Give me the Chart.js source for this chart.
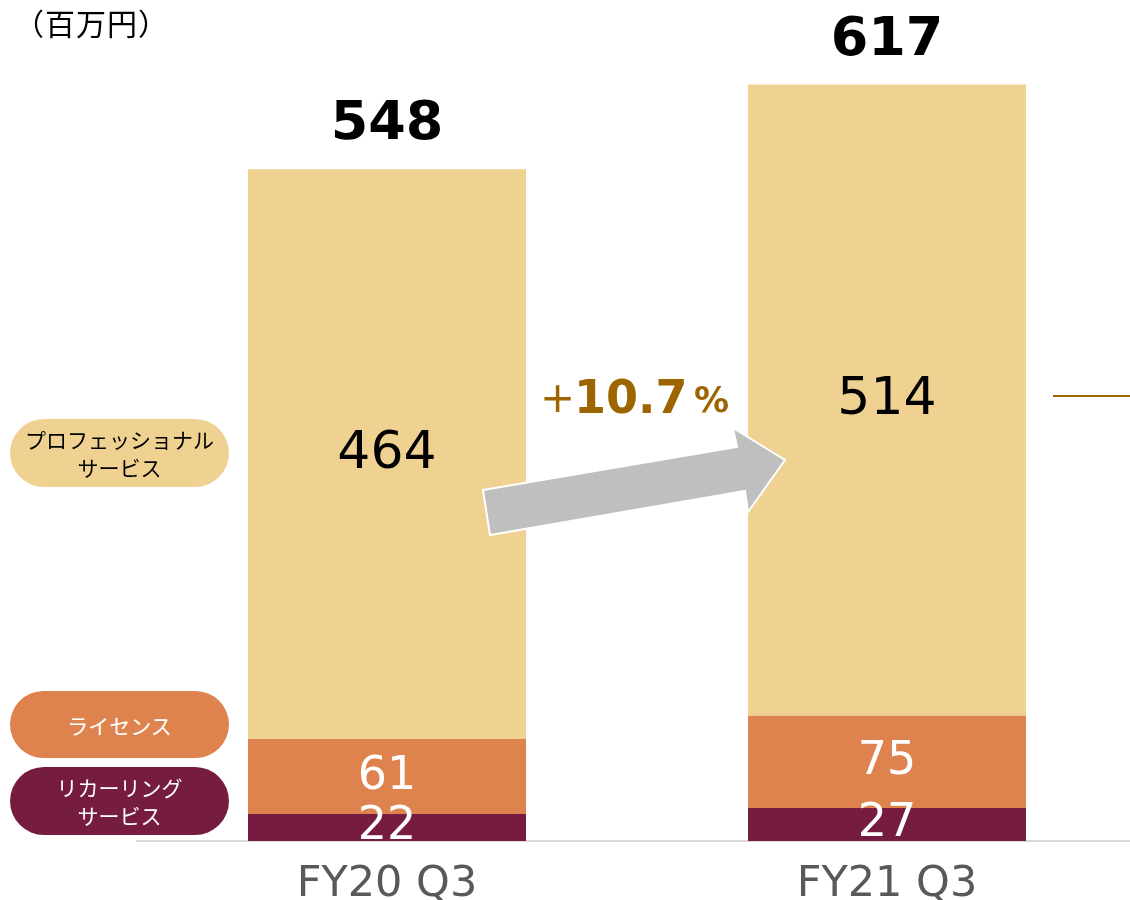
<!DOCTYPE html>
<html>
<head>
<meta charset="utf-8">
<script src="https://cdn.jsdelivr.net/npm/chart.js@4.4.1/dist/chart.umd.min.js"></script>
<style>
    html, body { margin: 0; padding: 0; background: #fff; overflow: hidden; }
    #wrap { position: relative; width: 1130px; height: 900px; overflow: hidden; }
    #box { position: absolute; left: 0; top: 0; width: 1137px; height: 929px; }
    .unit { position: absolute; left: 14px; top: 0px; font: 30px "Noto Sans CJK JP", sans-serif; color: #000; letter-spacing: 1px; }
    .pill { position: absolute; left: 10px; width: 219px; border-radius: 34px; display: flex; align-items: center; justify-content: center; text-align: center; font: 21px/28px "Noto Sans CJK JP", sans-serif; }
</style>
</head>
<body>
<div id="wrap">
    <div id="box"><canvas id="grafica"></canvas></div>
    <div class="unit">（百万円）</div>
    <div class="pill" style="top:419px;height:68px;background:#EFD291;color:#000;">プロフェッショナル<br>サービス</div>
    <div class="pill" style="top:691px;height:67px;background:#DE824E;color:#fff;">ライセンス</div>
    <div class="pill" style="top:767px;height:68px;background:#761C40;color:#fff;">リカーリング<br>サービス</div>
</div>
<script>
const categories = ['FY20 Q3', 'FY21 Q3'];
const recurring = [22, 27];
const license = [61, 75];
const professional = [464, 514];
const totals = [548, 617];
const growthLabel = '+10.7';

const numFont = '"DejaVu Sans", Verdana, sans-serif';

// values inside segments + totals on top
const labelPlugin = {
    id: 'labels',
    afterDatasetsDraw(chart) {
        const ctx = chart.ctx;
        ctx.save();
        ctx.textAlign = 'center';
        ctx.textBaseline = 'middle';
        chart.data.datasets.forEach((ds, i) => {
            const meta = chart.getDatasetMeta(i);
            meta.data.forEach((bar, j) => {
                const y = (bar.y + bar.base) / 2;
                ctx.fillStyle = ds.labelColor;
                ctx.font = ds.labelSize + 'px ' + numFont;
                ctx.fillText(ds.data[j], bar.x, y);
            });
        });
        const top = chart.getDatasetMeta(chart.data.datasets.length - 1);
        top.data.forEach((bar, j) => {
            ctx.fillStyle = '#000';
            ctx.font = 'bold 54px ' + numFont;
            ctx.fillText(totals[j], bar.x, bar.y - 44);
        });
        ctx.restore();
    }
};

// growth arrow and note
const arrowPlugin = {
    id: 'arrow',
    afterDraw(chart) {
        const ctx = chart.ctx;
        ctx.save();
        ctx.beginPath();
        ctx.moveTo(483, 490);
        ctx.lineTo(737, 447);
        ctx.lineTo(733, 428);
        ctx.lineTo(785, 460);
        ctx.lineTo(748, 512);
        ctx.lineTo(745, 491);
        ctx.lineTo(490, 535);
        ctx.closePath();
        ctx.fillStyle = '#BFBFBF';
        ctx.fill();
        ctx.strokeStyle = '#fff';
        ctx.lineWidth = 2;
        ctx.stroke();

        ctx.fillStyle = '#9C6500';
        ctx.textBaseline = 'alphabetic';
        ctx.textAlign = 'left';
        ctx.font = '42px ' + numFont;
        ctx.fillText('+', 540, 412);
        ctx.font = 'bold 46px ' + numFont;
        ctx.fillText(growthLabel.slice(1), 574, 413);
        ctx.font = 'bold 35px ' + numFont;
        ctx.fillText('%', 694, 412);

        ctx.strokeStyle = '#9C6500';
        ctx.lineWidth = 2;
        ctx.beginPath();
        ctx.moveTo(1053, 396);
        ctx.lineTo(1137, 396);
        ctx.stroke();
        ctx.restore();
    }
};

const chart = new Chart(document.getElementById('grafica'), {
    type: 'bar',
    data: {
        labels: categories,
        datasets: [
            { label: 'リカーリングサービス', data: recurring, backgroundColor: '#761C40', labelColor: '#fff', labelSize: 46 },
            { label: 'ライセンス', data: license, backgroundColor: '#DE824E', labelColor: '#fff', labelSize: 46 },
            { label: 'プロフェッショナルサービス', data: professional, backgroundColor: '#EFD291', labelColor: '#000', labelSize: 52 }
        ]
    },
    options: {
        responsive: true,
        maintainAspectRatio: false,
        animation: false,
        categoryPercentage: 1,
        barPercentage: 0.556,
        layout: { padding: { left: 137, right: 0, top: 6, bottom: 0 } },
        plugins: {
            legend: { display: false },
            tooltip: { enabled: false }
        },
        scales: {
            x: {
                stacked: true,
                grid: { display: false, drawTicks: false },
                border: { display: true, color: '#D9D9D9', width: 2 },
                ticks: { color: '#595959', padding: 30, font: { family: numFont, size: 43, lineHeight: 0.65 } }
            },
            y: {
                stacked: true,
                display: false,
                min: 0,
                max: 680
            }
        }
    },
    plugins: [labelPlugin, arrowPlugin]
});
</script>
</body>
</html>
